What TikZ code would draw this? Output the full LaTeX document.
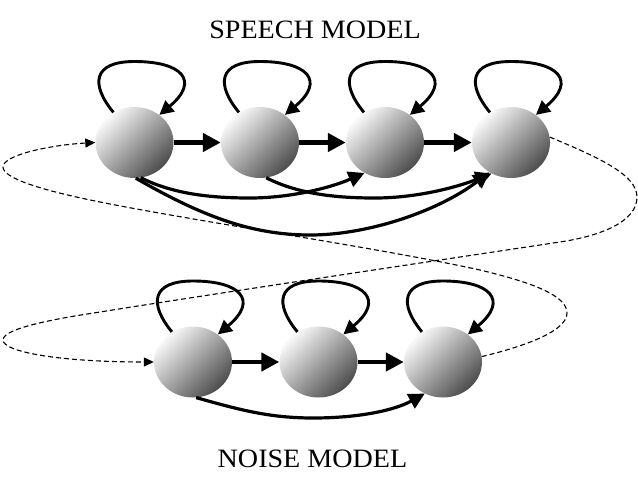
\documentclass[tikz,border=0pt]{standalone}
\usepackage{fontspec}
\newfontfamily\titlefont[FakeStretch=1.06]{Liberation Serif}
\usetikzlibrary{arrows.meta,shapes.geometric,calc}
\newcommand\stateloop[1]{%
  \draw[loopline] (#1.125) .. controls ($(#1)+(-44,-58)$) and ($(#1)+(-42,-81)$) .. ($(#1)+(0,-81)$)
     .. controls ($(#1)+(47,-81)$) and ($(#1)+(66,-62)$) .. (#1.48);}
\begin{document}
\begin{tikzpicture}[x=1pt,y=-1pt,
  state/.style={ellipse, minimum width=78pt, minimum height=71pt, inner sep=0pt,
    top color=gray!4, middle color=gray!55, bottom color=black!70, shading angle=45},
  loopline/.style={line width=2.9pt, line join=round, -{Triangle[length=14pt,width=14pt]}},
  trans/.style={line width=4.5pt, -{Triangle[length=18pt,width=18pt]}},
  skip/.style={line width=3.2pt, line join=round, -{Triangle[length=16pt,width=16pt]}},
  back/.style={line width=1.1pt, dash pattern=on 5pt off 3pt, -{Triangle[length=10pt,width=9pt]}},
  title/.style={font=\titlefont\fontsize{26.5}{30}\selectfont, anchor=base, inner sep=0pt}]
\useasboundingbox (0,0) rectangle (638,493);

\node[title] (st) at (315,38.5) {SPEECH MODEL};
\node[title] (nt) at (312.5,467) {NOISE MODEL};

\node[state] (s1) at (134.5,142.5) {};
\node[state] (s2) at (260,142.5) {};
\node[state] (s3) at (385,142.5) {};
\node[state] (s4) at (511,142.5) {};

\node[state] (n1) at (193,362) {};
\node[state] (n2) at (318.5,362) {};
\node[state] (n3) at (443,362) {};

% self loops
\stateloop{s1}
\stateloop{s2}
\stateloop{s3}
\stateloop{s4}
\stateloop{n1}
\stateloop{n2}
\stateloop{n3}

% forward transitions
\draw[trans] (s1) -- (s2);
\draw[trans] (s2) -- (s3);
\draw[trans] (s3) -- (s4);
\draw[trans] (n1) -- (n2);
\draw[trans] (n2) -- (n3);

% skip transitions
\draw[skip] (s1.280) .. controls (175,195) and (215,198) .. (250,198)
   .. controls (290,198) and (330,188) .. (s3.236);
\draw[skip] (s2.280) .. controls (300,195) and (340,198) .. (375,198)
   .. controls (415,198) and (455,188) .. (s4.238);
\draw[skip] (s1.272) .. controls (200,215) and (250,235) .. (310,235)
   .. controls (370,235) and (440,210) .. (s4.234);
\draw[skip] (n1.275) .. controls (240,410) and (270,418) .. (313,418)
   .. controls (360,418) and (395,410) .. (n3.240);

% dashed links between models
\draw[back] (s4.8) .. controls (600,158) and (637,175) .. (637,197)
   .. controls (637,222) and (600,236) .. (560,242)
   .. controls (400,266) and (200,296) .. (100,312)
   .. controls (40,321) and (3,330) .. (3,340)
   .. controls (3,352) and (60,362) .. (n1.west);
\draw[back] (n3.8) .. controls (530,345) and (567,330) .. (567,313)
   .. controls (567,295) and (530,282) .. (480,270)
   .. controls (380,248) and (200,222) .. (100,202)
   .. controls (40,190) and (3,178) .. (3,167)
   .. controls (3,155) and (50,145) .. (s1.west);
\end{tikzpicture}
\end{document}
